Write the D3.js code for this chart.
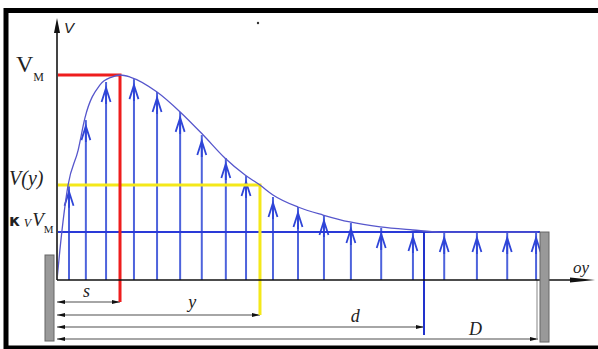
<!DOCTYPE html>
<html>
<head>
<meta charset="utf-8">
<script src="https://cdn.jsdelivr.net/npm/d3@7"></script>
<style>
  body { margin: 0; background: #fff; }
  svg { display: block; }
  .lbl { font-family: "Liberation Serif", "DejaVu Serif", serif; font-style: italic; fill: #222; }
</style>
</head>
<body>
<svg id="chart" width="598" height="349"></svg>
<script>
// velocity profile (position along oy as share of D, V as share of V_M)
const profilePos = [0, 0.006, 0.023, 0.044, 0.058, 0.089, 0.114, 0.131, 0.152, 0.208, 0.256, 0.304, 0.349, 0.391, 0.422, 0.449, 0.501, 0.553, 0.609, 0.672, 0.740, 0.796, 1.0];
const profileV   = [0, 0.146, 0.463, 0.634, 0.790, 0.951, 0.990, 1.0, 0.990, 0.917, 0.820, 0.707, 0.595, 0.512, 0.463, 0.415, 0.356, 0.317, 0.283, 0.259, 0.244, 0.234, 0.234];

// velocity vectors
const arrowPos = [0.025, 0.060, 0.102, 0.160, 0.208, 0.256, 0.301, 0.351, 0.393, 0.449, 0.501, 0.555, 0.611, 0.674, 0.740, 0.805, 0.873, 0.936, 0.996];
const arrowV   = [0.46, 0.78, 0.966, 0.98, 0.917, 0.82, 0.707, 0.595, 0.507, 0.405, 0.356, 0.317, 0.278, 0.254, 0.239, 0.234, 0.234, 0.234, 0.234];

// characteristic values
const sVal = 0.131;   // s, position of V_M
const yVal = 0.422;   // y
const dVal = 0.763;   // d
const DVal = 1.0;     // D
const vMax = 1.0;     // V_M
const vY = 0.463;     // V(y)
const kvV = 0.234;    // k_v V_M

const svg = d3.select('#chart');

const x = d3.scaleLinear().domain([0, 1]).range([57, 538]);
const v = d3.scaleLinear().domain([0, 1]).range([280, 75]);

const defs = svg.append('defs');
defs.append('marker').attr('id', 'dimEnd')
  .attr('viewBox', '0 -3 8 6').attr('refX', 8).attr('refY', 0)
  .attr('markerWidth', 8).attr('markerHeight', 6).attr('markerUnits', 'userSpaceOnUse')
  .attr('orient', 'auto')
  .append('path').attr('d', 'M0,-2L8,0L0,2Z').attr('fill', '#111');
defs.append('marker').attr('id', 'dimStart')
  .attr('viewBox', '0 -3 8 6').attr('refX', 0).attr('refY', 0)
  .attr('markerWidth', 8).attr('markerHeight', 6).attr('markerUnits', 'userSpaceOnUse')
  .attr('orient', 'auto')
  .append('path').attr('d', 'M8,-2L0,0L8,2Z').attr('fill', '#111');

// frame
svg.append('rect')
  .attr('x', 6).attr('y', 10.5).attr('width', 610).attr('height', 337.5)
  .attr('fill', 'none').attr('stroke', '#000').attr('stroke-width', 5);

// stray dot at the top
svg.append('circle').attr('cx', 258).attr('cy', 23).attr('r', 1.2).attr('fill', '#333');

// dimension lines
const dims = [
  { key: 's', end: sVal, row: 302 },
  { key: 'y', end: yVal, row: 315 },
  { key: 'd', end: dVal, row: 327 },
  { key: 'D', end: DVal, row: 339 }
];
svg.selectAll('.dim').data(dims).join('line')
  .attr('class', 'dim')
  .attr('x1', x(0)).attr('x2', d => x(d.end))
  .attr('y1', d => d.row).attr('y2', d => d.row)
  .attr('stroke', '#888').attr('stroke-width', 1.3)
  .attr('marker-start', 'url(#dimStart)').attr('marker-end', 'url(#dimEnd)');

// thin extension line at D
svg.append('line')
  .attr('x1', x(DVal) - 1).attr('x2', x(DVal) - 1)
  .attr('y1', v(0)).attr('y2', 340)
  .attr('stroke', '#999').attr('stroke-width', 1.2);

// velocity vectors
const arrows = arrowPos.map((p, i) => ({ p, val: arrowV[i] }));
const ag = svg.append('g');
ag.selectAll('line').data(arrows).join('line')
  .attr('x1', d => x(d.p)).attr('x2', d => x(d.p))
  .attr('y1', v(0)).attr('y2', d => v(d.val))
  .attr('stroke', '#4d63dc').attr('stroke-width', 2);
ag.selectAll('path').data(arrows).join('path')
  .attr('transform', d => `translate(${x(d.p)},${v(d.val) + 6})`)
  .attr('d', 'M-4.5,14L0,0L4.5,14M0,0L0,16')
  .attr('fill', 'none').attr('stroke', '#2f45d8').attr('stroke-width', 1.8);

// k_v V_M level
svg.append('line')
  .attr('x1', x(0)).attr('x2', x(DVal) + 2)
  .attr('y1', v(kvV)).attr('y2', v(kvV))
  .attr('stroke', '#2a3ad8').attr('stroke-width', 2);

// d marker
svg.append('line')
  .attr('x1', x(dVal)).attr('x2', x(dVal))
  .attr('y1', v(kvV)).attr('y2', 335)
  .attr('stroke', '#2233cc').attr('stroke-width', 2);

// V(y) guide
svg.append('path')
  .attr('d', `M${x(0)},${v(vY)}H${x(yVal)}V${315}`)
  .attr('fill', 'none').attr('stroke', '#f4e81a').attr('stroke-width', 3);

// V_M guide
svg.append('path')
  .attr('d', `M${x(0)},${v(vMax)}H${x(sVal)}V${302}`)
  .attr('fill', 'none').attr('stroke', '#ee1d1d').attr('stroke-width', 3);

// profile curve
const line = d3.line().x(d => x(d[0])).y(d => v(d[1])).curve(d3.curveMonotoneX);
svg.append('path')
  .datum(profilePos.map((p, i) => [p, profileV[i]]))
  .attr('d', line)
  .attr('fill', 'none').attr('stroke', '#5656cc').attr('stroke-width', 1.3);

// axes
svg.append('line')
  .attr('x1', x(0)).attr('x2', x(0)).attr('y1', v(0)).attr('y2', 30)
  .attr('stroke', '#444').attr('stroke-width', 2);
svg.append('path')
  .attr('d', `M${x(0)},18L${x(0) - 3},33L${x(0) + 3},33Z`).attr('fill', '#111');
svg.append('line')
  .attr('x1', x(0)).attr('x2', 585).attr('y1', v(0)).attr('y2', v(0))
  .attr('stroke', '#111').attr('stroke-width', 1.5);
svg.append('path')
  .attr('d', `M595,${v(0)}L570,${v(0) - 2.5}L570,${v(0) + 2.5}Z`).attr('fill', '#111');

// walls
svg.append('rect')
  .attr('x', x(0) - 12).attr('y', 255).attr('width', 9).attr('height', 86)
  .attr('fill', '#999').attr('stroke', '#666').attr('stroke-width', 1);
svg.append('rect')
  .attr('x', x(DVal) + 2).attr('y', v(kvV)).attr('width', 9).attr('height', 110)
  .attr('fill', '#999').attr('stroke', '#666').attr('stroke-width', 1);

// labels
svg.append('text').attr('class', 'lbl')
  .attr('x', x(0) + 7).attr('y', 33).attr('font-size', 15)
  .style('font-family', 'Liberation Sans, Arial, sans-serif').text('V');
svg.append('text').attr('x', 16).attr('y', 72)
  .style('font-family', 'Liberation Serif, serif').style('fill', '#222')
  .attr('font-size', 24).text('V')
  .append('tspan').attr('font-size', 12).attr('dy', 9).text('М');
svg.append('text').attr('class', 'lbl').attr('x', 9).attr('y', 185).attr('font-size', 20).text('V(y)');
const kt = svg.append('text').attr('x', 9).attr('y', 226).style('fill', '#222');
kt.append('tspan').style('font-family', 'DejaVu Sans, sans-serif').style('font-weight', 'bold').attr('font-size', 16).text('к');
kt.append('tspan').style('font-family', 'Liberation Serif, serif').style('font-style', 'italic').attr('font-size', 12).attr('dy', 1).attr('dx', 4).text('V');
kt.append('tspan').style('font-family', 'Liberation Serif, serif').style('font-style', 'italic').attr('font-size', 19).attr('dy', -1).attr('dx', 1).text('V');
kt.append('tspan').style('font-family', 'Liberation Serif, serif').attr('font-size', 11).attr('dy', 7).text('М');

svg.append('text').attr('class', 'lbl').attr('x', x(sVal / 2) - 2).attr('y', 297).attr('font-size', 18).attr('text-anchor', 'middle').text('s');
svg.append('text').attr('class', 'lbl').attr('x', x(0.281)).attr('y', 308).attr('font-size', 18).attr('text-anchor', 'middle').text('y');
svg.append('text').attr('class', 'lbl').attr('x', x(0.62)).attr('y', 322).attr('font-size', 18).attr('text-anchor', 'middle').text('d');
svg.append('text').attr('class', 'lbl').attr('x', x(0.87)).attr('y', 335).attr('font-size', 18).attr('text-anchor', 'middle').text('D');
svg.append('text').attr('class', 'lbl').attr('x', 581).attr('y', 273).attr('font-size', 17).attr('text-anchor', 'middle').text('oy');
</script>
</body>
</html>
